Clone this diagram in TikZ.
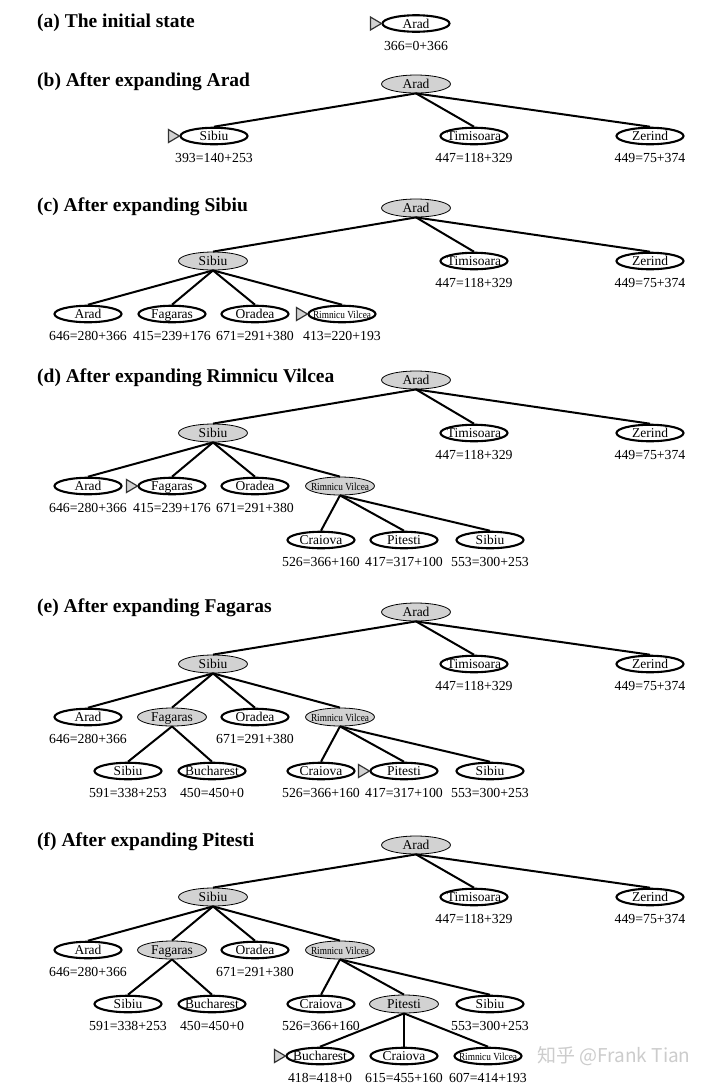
\documentclass[tikz,border=0pt]{standalone}
\usepackage{fontspec}
\setmainfont{Liberation Serif}
\newfontfamily\condfont[FakeStretch=0.86]{Liberation Serif}
\newfontfamily\cjkfont{Noto Sans CJK SC}
\usetikzlibrary{shapes.geometric,calc}
\tikzset{
  basenode/.style={ellipse, inner sep=0pt, text height=9.6pt, text depth=0pt,
    font=\fontsize{13.5}{14}\selectfont, minimum width=67pt, minimum height=16.5pt},
  open/.style={basenode, draw=black, line width=2.1pt, fill=white},
  closed/.style={basenode, draw=black, line width=0.8pt, fill=gray!35,
    minimum width=69pt, minimum height=18pt},
  lab/.style={inner sep=0pt, font=\fontsize{13.8}{14}\selectfont},
  ttl/.style={anchor=base west, inner sep=0pt, font=\fontsize{19.5}{20}\selectfont\bfseries},
  edge/.style={line width=2pt},
  fronttri/.style={draw=black!80, fill=gray!35, line width=1.2pt, line join=miter},
}
\newcommand\cn[1]{\makebox[0pt]{#1}}
\newcommand\rvtext{\makebox[0pt]{\condfont\fontsize{10.8}{11}\selectfont Rimnicu Vilcea}}
\newcommand\hv[2]{\node[lab] (#1l) at ($(#1)+(0,22)$) {#2};}
\newcommand\front[1]{\draw[fronttri] (#1.west) -- ++(-11,6.5) -- ++(0,-13) -- cycle;}
\begin{document}
\begin{tikzpicture}[x=1pt,y=-1pt]
\useasboundingbox (0,0) rectangle (720,1088);
\fill[white] (0,0) rectangle (720,1088);

% ---------- (a)
\node[ttl] (ta) at (37,27) {(a) The initial state};
\node[open] (aR) at (416,23.5) {\cn{Arad}};
\hv{aR}{366=0+366}
\front{aR}

% ---------- (b)
\node[ttl] (tb) at (37,86) {(b) After expanding Arad};
\node[closed] (bR) at (416,84) {\cn{Arad}};
\node[open] (bS) at (214,136) {\cn{Sibiu}};
\node[open] (bT) at (474,136) {\cn{Timisoara}};
\node[open] (bZ) at (650,136) {\cn{Zerind}};
\hv{bS}{393=140+253}
\hv{bT}{447=118+329}
\hv{bZ}{449=75+374}
\front{bS}
\foreach \c in {bS,bT,bZ} \draw[edge] (bR.south) -- (\c.north);

% ---------- (c)
\node[ttl] (tc) at (37,211) {(c) After expanding Sibiu};
\node[closed] (cR) at (416,208) {\cn{Arad}};
\node[closed] (cS) at (213,261) {\cn{Sibiu}};
\node[open] (cT) at (474,261) {\cn{Timisoara}};
\node[open] (cZ) at (650,261) {\cn{Zerind}};
\node[open] (cA) at (88,314) {\cn{Arad}};
\node[open] (cF) at (172,314) {\cn{Fagaras}};
\node[open] (cO) at (255,314) {\cn{Oradea}};
\node[open] (cV) at (342,314) {\rvtext};
\hv{cT}{447=118+329}
\hv{cZ}{449=75+374}
\hv{cA}{646=280+366}
\hv{cF}{415=239+176}
\hv{cO}{671=291+380}
\hv{cV}{413=220+193}
\front{cV}
\foreach \c in {cS,cT,cZ} \draw[edge] (cR.south) -- (\c.north);
\foreach \c in {cA,cF,cO,cV} \draw[edge] (cS.south) -- (\c.north);

% ---------- (d)
\node[ttl] (td) at (37,382) {(d) After expanding Rimnicu Vilcea};
\node[closed] (dR) at (416,380) {\cn{Arad}};
\node[closed] (dS) at (213,433) {\cn{Sibiu}};
\node[open] (dT) at (474,433) {\cn{Timisoara}};
\node[open] (dZ) at (650,433) {\cn{Zerind}};
\node[open] (dA) at (88,486) {\cn{Arad}};
\node[open] (dF) at (172,486) {\cn{Fagaras}};
\node[open] (dO) at (255,486) {\cn{Oradea}};
\node[closed] (dV) at (340,486) {\rvtext};
\node[open] (dC) at (321,540) {\cn{Craiova}};
\node[open] (dP) at (404,540) {\cn{Pitesti}};
\node[open] (dS2) at (490,540) {\cn{Sibiu}};
\hv{dT}{447=118+329}
\hv{dZ}{449=75+374}
\hv{dA}{646=280+366}
\hv{dF}{415=239+176}
\hv{dO}{671=291+380}
\hv{dC}{526=366+160}
\hv{dP}{417=317+100}
\hv{dS2}{553=300+253}
\front{dF}
\foreach \c in {dS,dT,dZ} \draw[edge] (dR.south) -- (\c.north);
\foreach \c in {dA,dF,dO,dV} \draw[edge] (dS.south) -- (\c.north);
\foreach \c in {dC,dP,dS2} \draw[edge] (dV.south) -- (\c.north);

% ---------- (e)
\node[ttl] (te) at (37,612) {(e) After expanding Fagaras};
\node[closed] (eR) at (416,612) {\cn{Arad}};
\node[closed] (eS) at (213,664) {\cn{Sibiu}};
\node[open] (eT) at (474,664) {\cn{Timisoara}};
\node[open] (eZ) at (650,664) {\cn{Zerind}};
\node[open] (eA) at (88,717) {\cn{Arad}};
\node[closed] (eF) at (172,717) {\cn{Fagaras}};
\node[open] (eO) at (255,717) {\cn{Oradea}};
\node[closed] (eV) at (340,717) {\rvtext};
\node[open] (eS3) at (128,771) {\cn{Sibiu}};
\node[open] (eB) at (212,771) {\cn{Bucharest}};
\node[open] (eC) at (321,771) {\cn{Craiova}};
\node[open] (eP) at (404,771) {\cn{Pitesti}};
\node[open] (eS2) at (490,771) {\cn{Sibiu}};
\hv{eT}{447=118+329}
\hv{eZ}{449=75+374}
\hv{eA}{646=280+366}
\hv{eO}{671=291+380}
\hv{eS3}{591=338+253}
\hv{eB}{450=450+0}
\hv{eC}{526=366+160}
\hv{eP}{417=317+100}
\hv{eS2}{553=300+253}
\front{eP}
\foreach \c in {eS,eT,eZ} \draw[edge] (eR.south) -- (\c.north);
\foreach \c in {eA,eF,eO,eV} \draw[edge] (eS.south) -- (\c.north);
\foreach \c in {eS3,eB} \draw[edge] (eF.south) -- (\c.north);
\foreach \c in {eC,eP,eS2} \draw[edge] (eV.south) -- (\c.north);

% ---------- (f)
\node[ttl] (tf) at (37,846) {(f) After expanding Pitesti};
\node[closed] (fR) at (416,845) {\cn{Arad}};
\node[closed] (fS) at (213,897) {\cn{Sibiu}};
\node[open] (fT) at (474,897) {\cn{Timisoara}};
\node[open] (fZ) at (650,897) {\cn{Zerind}};
\node[open] (fA) at (88,950) {\cn{Arad}};
\node[closed] (fF) at (172,950) {\cn{Fagaras}};
\node[open] (fO) at (255,950) {\cn{Oradea}};
\node[closed] (fV) at (340,950) {\rvtext};
\node[open] (fS3) at (128,1004) {\cn{Sibiu}};
\node[open] (fB) at (212,1004) {\cn{Bucharest}};
\node[open] (fC) at (321,1004) {\cn{Craiova}};
\node[closed] (fP) at (404,1004) {\cn{Pitesti}};
\node[open] (fS2) at (490,1004) {\cn{Sibiu}};
\node[open] (fB2) at (320,1056) {\cn{Bucharest}};
\node[open] (fC2) at (404,1056) {\cn{Craiova}};
\node[open] (fV2) at (488,1056) {\rvtext};
\hv{fT}{447=118+329}
\hv{fZ}{449=75+374}
\hv{fA}{646=280+366}
\hv{fO}{671=291+380}
\hv{fS3}{591=338+253}
\hv{fB}{450=450+0}
\hv{fC}{526=366+160}
\hv{fS2}{553=300+253}
\hv{fB2}{418=418+0}
\hv{fC2}{615=455+160}
\hv{fV2}{607=414+193}
\front{fB2}
\foreach \c in {fS,fT,fZ} \draw[edge] (fR.south) -- (\c.north);
\foreach \c in {fA,fF,fO,fV} \draw[edge] (fS.south) -- (\c.north);
\foreach \c in {fS3,fB} \draw[edge] (fF.south) -- (\c.north);
\foreach \c in {fC,fP,fS2} \draw[edge] (fV.south) -- (\c.north);
\foreach \c in {fB2,fC2,fV2} \draw[edge] (fP.south) -- (\c.north);

% watermark
\node[inner sep=0pt, text=gray!40, font=\cjkfont\fontsize{19}{20}\selectfont] (wm) at (614,1056) {知乎 @Frank Tian};
\end{tikzpicture}
\end{document}
